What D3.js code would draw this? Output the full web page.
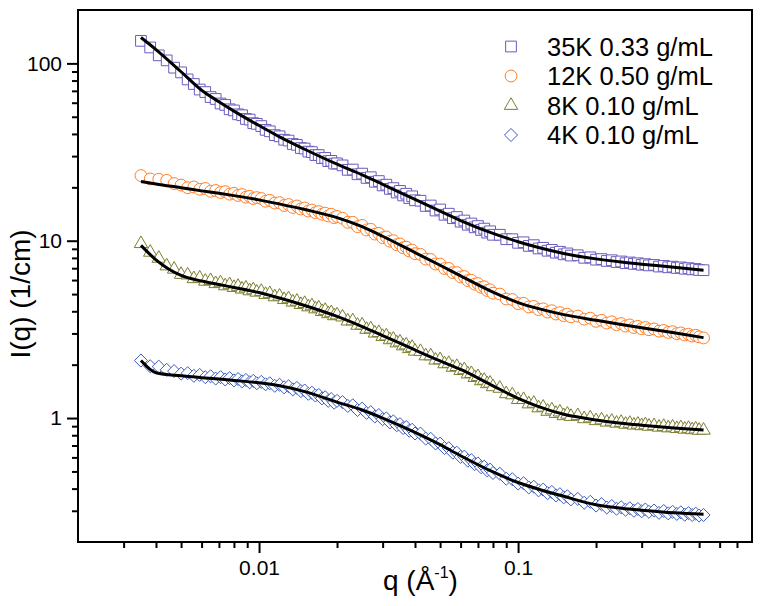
<!DOCTYPE html>
<html><head><meta charset="utf-8">
<script src="https://cdn.jsdelivr.net/npm/d3@7"></script>
<style>
body{margin:0;background:#fff;}
svg{display:block;}
text{font-family:Arial,"Liberation Sans",sans-serif;fill:#000;}
</style>
</head><body>
<svg id="chart" width="762" height="606"></svg>
<script>
// ---- data ----
const qValues = [
0.0035,0.0038,0.0041,0.0044,0.0047,0.005,0.0053,0.0056,0.0059,0.0062,0.0065,0.0068,0.0071,0.0074,0.0077,0.008,0.0083,0.0086,0.0089,0.0092,0.0095,0.0098,
0.0102,0.0106,0.011,0.0115,0.012,0.0125,0.013,0.0135,0.014,0.0145,0.015,0.0155,0.016,0.0165,0.017,0.0175,0.018,0.0185,0.019,0.0195,0.02,
0.021,0.022,0.023,0.024,0.025,0.026,0.027,0.028,0.029,0.03,0.031,0.032,0.033,0.034,0.035,0.036,0.037,0.038,0.039,0.04,
0.042,0.044,0.046,0.048,0.05,0.052,0.054,0.056,0.058,0.06,0.062,0.064,0.066,0.068,0.07,0.072,0.074,0.076,0.078,0.08,
0.085,0.09,0.095,0.1,0.105,0.11,0.115,0.12,0.125,0.13,0.135,0.14,0.145,0.15,0.155,0.16,
0.17,0.18,0.19,0.2,0.21,0.22,0.23,0.24,0.25,0.26,0.27,0.28,0.29,0.3,0.31,0.32,
0.335,0.35,0.365,0.38,0.395,0.41,0.425,0.44,0.455,0.47,0.485,0.5,0.52];

const series35K = [
134,123,111,104,94.6,89.0,81.2,76.5,71.2,68.9,64.6,63.0,59.4,58.3,55.1,54.3,51.6,51.0,48.6,48.2,46.0,45.6,
44.3,42.2,41.4,39.4,38.8,37.1,36.7,35.1,34.7,33.3,33.1,31.8,31.6,30.4,30.4,29.2,29.3,28.1,28.2,27.2,27.3,
26.6,25.1,25.2,23.7,23.9,22.6,22.8,21.5,21.7,20.5,20.7,19.6,19.8,18.7,19.1,18.0,18.4,17.4,17.8,16.9,
16.8,15.7,15.8,14.8,15.0,14.0,14.2,13.4,13.6,12.8,13.0,12.3,12.5,11.9,12.1,11.5,11.7,11.1,11.3,10.8,
10.8,10.2,10.2,9.73,9.80,9.35,9.44,9.04,9.12,8.78,8.88,8.56,8.66,8.38,8.48,8.25,
8.28,8.01,8.06,7.82,7.88,7.69,7.76,7.58,7.64,7.47,7.54,7.40,7.46,7.32,7.38,7.26,
7.30,7.15,7.21,7.08,7.14,7.02,7.07,6.95,7.00,6.89,6.93,6.84,6.82];

const series12K = [
23.3,22.3,22.2,21.9,21.0,20.6,19.9,20.1,19.5,19.7,19.0,19.2,18.7,18.9,18.3,18.5,18.0,18.2,17.6,17.8,17.3,17.5,
17.3,16.7,16.9,16.3,16.4,15.8,16.0,15.4,15.7,15.1,15.3,14.7,14.9,14.4,14.6,14.1,14.3,13.8,14.1,13.5,13.7,
13.4,12.7,12.7,12.0,12.2,11.5,11.6,10.9,11.0,10.4,10.5,9.94,10.0,9.50,9.58,9.12,9.20,8.76,8.85,8.45,
8.38,7.88,7.84,7.39,7.38,6.97,6.98,6.60,6.61,6.25,6.28,5.96,5.99,5.69,5.73,5.46,5.50,5.24,5.29,5.06,
5.00,4.69,4.66,4.42,4.44,4.23,4.26,4.09,4.13,3.96,4.03,3.86,3.93,3.78,3.85,3.72,
3.76,3.61,3.66,3.51,3.56,3.43,3.49,3.36,3.41,3.30,3.35,3.24,3.29,3.19,3.24,3.15,
3.18,3.09,3.12,3.04,3.07,2.99,3.02,2.94,2.97,2.90,2.93,2.87,2.83];

const series8K = [
9.62,8.60,7.95,7.20,6.90,6.45,6.40,6.10,6.15,5.90,5.95,5.72,5.78,5.56,5.64,5.44,5.52,5.33,5.40,5.21,5.28,5.12,
5.17,4.97,5.02,4.82,4.86,4.65,4.70,4.50,4.55,4.36,4.42,4.23,4.29,4.12,4.17,3.98,4.04,3.87,3.92,3.77,3.81,
3.71,3.52,3.53,3.33,3.34,3.16,3.18,3.01,3.03,2.88,2.90,2.76,2.78,2.65,2.68,2.55,2.58,2.46,2.50,2.38,
2.37,2.24,2.24,2.12,2.13,2.02,2.03,1.93,1.95,1.85,1.87,1.77,1.78,1.69,1.71,1.62,1.63,1.56,1.57,1.50,
1.47,1.37,1.35,1.27,1.27,1.20,1.21,1.14,1.15,1.09,1.11,1.06,1.08,1.03,1.05,1.02,
1.03,0.99,1.00,0.965,0.975,0.947,0.958,0.934,0.944,0.921,0.932,0.911,0.922,0.904,0.915,0.898,
0.905,0.887,0.896,0.879,0.888,0.871,0.881,0.864,0.873,0.858,0.866,0.852,0.853];

const series4K = [
2.11,1.96,1.95,1.87,1.84,1.78,1.79,1.73,1.75,1.70,1.72,1.67,1.70,1.65,1.68,1.63,1.66,1.61,1.64,1.59,1.62,1.57,
1.60,1.55,1.57,1.52,1.54,1.49,1.51,1.45,1.48,1.42,1.43,1.37,1.39,1.34,1.35,1.29,1.31,1.25,1.28,1.22,1.25,
1.23,1.17,1.18,1.11,1.13,1.07,1.08,1.02,1.04,0.985,0.995,0.945,0.958,0.911,0.924,0.878,0.890,0.848,0.859,0.818,
0.817,0.766,0.764,0.719,0.718,0.677,0.676,0.638,0.638,0.604,0.606,0.575,0.579,0.550,0.555,0.528,0.532,0.507,0.512,0.490,
0.485,0.455,0.452,0.427,0.429,0.406,0.410,0.391,0.395,0.377,0.383,0.366,0.372,0.357,0.362,0.348,
0.350,0.333,0.337,0.321,0.327,0.313,0.319,0.308,0.314,0.304,0.310,0.300,0.307,0.298,0.305,0.296,
0.301,0.292,0.299,0.290,0.296,0.288,0.294,0.285,0.291,0.284,0.289,0.282,0.284];

// fitted model curves (black lines)
const fitQ = [0.0035,0.004,0.005,0.006,0.007,0.008,0.01,0.012,0.015,0.02,0.025,0.03,0.04,0.05,0.06,0.08,0.1,0.12,0.15,0.2,0.25,0.3,0.4,0.52];
const fit35K = [140,119.7,89.7,70.6,60.8,53.8,44.6,38.5,32.8,27.0,23.5,20.8,17.1,14.7,13.0,11.0,9.87,9.16,8.48,7.90,7.58,7.37,7.09,6.82];
const fit12K = [21.6,20.9,19.9,19.1,18.5,17.96,17.0,16.1,15.0,13.5,12.0,10.6,8.57,7.27,6.34,5.13,4.48,4.14,3.83,3.56,3.37,3.23,3.03,2.84];
const fit8K  = [9.41,7.80,6.37,5.93,5.66,5.45,5.10,4.75,4.31,3.74,3.28,2.92,2.42,2.10,1.88,1.52,1.29,1.16,1.05,0.976,0.936,0.912,0.880,0.855];
const fit4K  = [2.11,1.80,1.73,1.69,1.66,1.63,1.58,1.52,1.41,1.23,1.11,1.00,0.831,0.708,0.613,0.497,0.433,0.397,0.362,0.324,0.310,0.302,0.292,0.287];

const seriesNames = ["35K 0.33 g/mL","12K 0.50 g/mL","8K 0.10 g/mL","4K 0.10 g/mL"];
const xMajorTicks = [0.01, 0.1];
const xTickLabels = ["0.01", "0.1"];
const xMinorTicks = [0.003,0.004,0.005,0.006,0.007,0.008,0.009,0.02,0.03,0.04,0.05,0.06,0.07,0.08,0.09,0.2,0.3,0.4,0.5,0.6,0.7];
const yMajorTicks = [1, 10, 100];
const yTickLabels = ["1", "10", "100"];
const yMinorTicks = [0.3,0.4,0.5,0.6,0.7,0.8,0.9,2,3,4,5,6,7,8,9,20,30,40,50,60,70,80,90];

// ---- chart ----
const FONT = 'Arial,"Liberation Sans",sans-serif';
const svg = d3.select("#chart");
const L = 78, R = 752, T = 10, B = 542;
const x = d3.scaleLog().domain([0.002, 0.8]).range([L, R]);
const y = d3.scaleLog().domain([0.2, 200]).range([B, T]);

const colors = ["#6b5bbd", "#ff7f27", "#7d7d2e", "#3c5cbc"];
const diamond = { draw(ctx, size) { const r = Math.sqrt(size) / 2; ctx.moveTo(0,-r); ctx.lineTo(r,0); ctx.lineTo(0,r); ctx.lineTo(-r,0); ctx.closePath(); } };
const symbols = [
  d3.symbol().type(d3.symbolSquare).size(115),
  d3.symbol().type(d3.symbolCircle).size(110),
  d3.symbol().type(d3.symbolTriangle).size(78),
  d3.symbol().type(diamond).size(170)
];
const allSeries = [series35K, series12K, series8K, series4K];
const allFits = [fit35K, fit12K, fit8K, fit4K];

allSeries.forEach((vals, si) => {
  const g = svg.append("g");
  g.selectAll("path").data(qValues.map((q, i) => [q, vals[i]])).enter().append("path")
    .attr("d", symbols[si])
    .attr("transform", d => `translate(${x(d[0])},${y(d[1])})`)
    .attr("fill", "#fff").attr("stroke", colors[si]).attr("stroke-width", 1);
});

const line = d3.line().x(d => x(d[0])).y(d => y(d[1])).curve(d3.curveMonotoneX);
allFits.forEach(vals => {
  svg.append("path").datum(fitQ.map((q, i) => [q, vals[i]]))
    .attr("d", line).attr("fill", "none").attr("stroke", "#000").attr("stroke-width", 3)
    .attr("stroke-linejoin", "round");
});

const xMaj = svg.append("g").attr("transform", `translate(0,${B})`)
  .call(d3.axisBottom(x).tickValues(xMajorTicks).tickSize(11).tickPadding(7).tickFormat((d,i) => xTickLabels[i]));
const xMin = svg.append("g").attr("transform", `translate(0,${B})`)
  .call(d3.axisBottom(x).tickValues(xMinorTicks).tickSize(6).tickFormat(""));
const yMaj = svg.append("g").attr("transform", `translate(${L},0)`)
  .call(d3.axisLeft(y).tickValues(yMajorTicks).tickSize(11).tickPadding(5).tickFormat((d,i) => yTickLabels[i]));
const yMin = svg.append("g").attr("transform", `translate(${L},0)`)
  .call(d3.axisLeft(y).tickValues(yMinorTicks).tickSize(6).tickFormat(""));
[xMaj, xMin, yMaj, yMin].forEach(g => {
  g.attr("font-family", FONT).attr("font-size", 21);
  g.select(".domain").remove();
  g.selectAll(".tick line").attr("stroke", "#000").attr("stroke-width", 2);
  g.selectAll(".tick text").attr("fill", "#000");
});

svg.append("rect").attr("x", L).attr("y", T).attr("width", R - L).attr("height", B - T)
  .attr("fill", "none").attr("stroke", "#000").attr("stroke-width", 2);

const xt = svg.append("text").attr("x", 383).attr("y", 590).attr("font-size", 28).attr("font-family", FONT);
xt.append("tspan").text("q (Å");
xt.append("tspan").attr("font-size", 16).attr("dy", -12).text("-1");
xt.append("tspan").attr("dy", 12).text(")");

svg.append("text").attr("transform", "translate(30,294) rotate(-90)")
  .attr("text-anchor", "middle").attr("font-size", 28).attr("font-family", FONT).text("I(q) (1/cm)");

const legY = [46.5, 76, 105.5, 135];
seriesNames.forEach((name, i) => {
  svg.append("path").attr("d", symbols[i]).attr("transform", `translate(511,${legY[i]})`)
    .attr("fill", "#fff").attr("stroke", colors[i]).attr("stroke-width", 1);
  svg.append("text").attr("x", 547).attr("y", legY[i] + 9).attr("font-size", 25.5).attr("font-family", FONT).text(name);
});
</script>
</body></html>
